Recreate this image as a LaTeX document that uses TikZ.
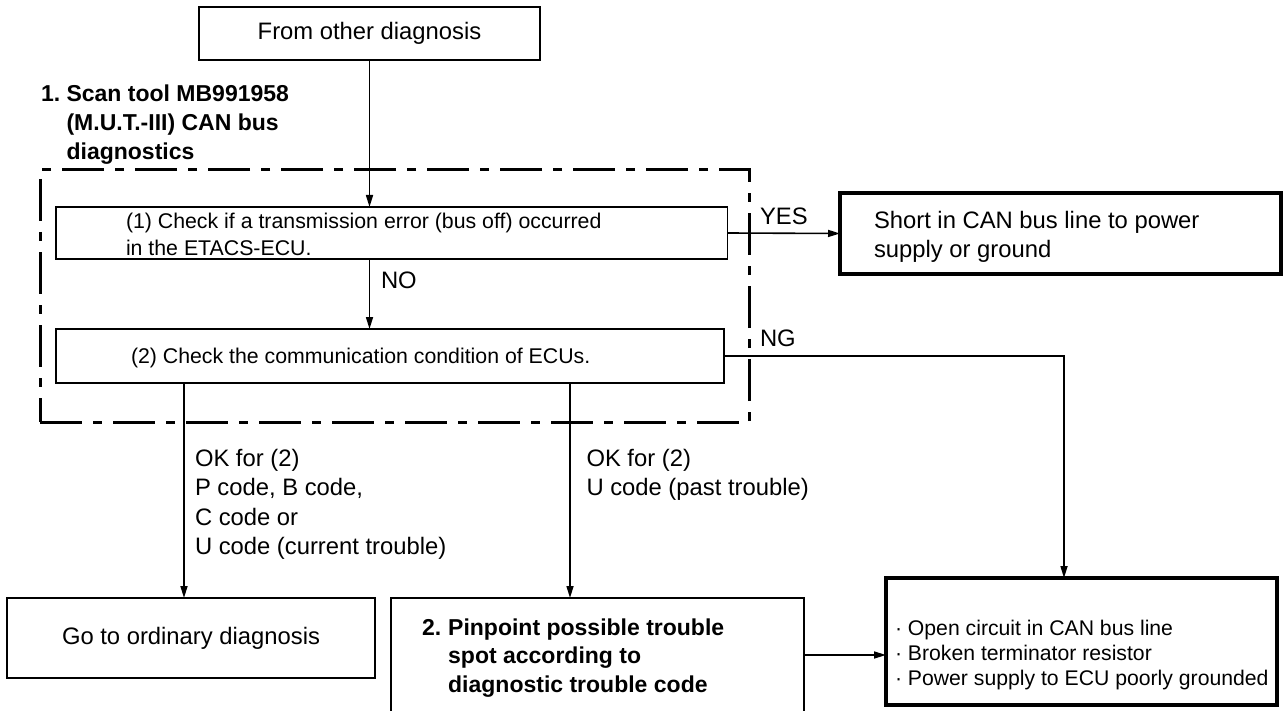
\documentclass[tikz,border=0pt]{standalone}
\usepackage{fontspec}
\setmainfont{Liberation Sans}
\usetikzlibrary{arrows.meta}
\newcommand{\linesblock}[1]{\begin{tabular}[t]{@{}l@{}}#1\end{tabular}}
\renewcommand{\arraystretch}{1}
\begin{document}
\begin{tikzpicture}[x=1pt,y=-1pt,
  bigtxt/.style={font=\fontsize{23.8}{29.3}\selectfont},
  smalltxt/.style={font=\fontsize{21.3}{26.5}\selectfont},
  boldtxt/.style={font=\fontsize{23}{28.7}\selectfont\bfseries},
  listtxt/.style={font=\fontsize{21.2}{25}\selectfont},
  txt/.style={anchor=base west, inner sep=0pt, outer sep=0pt},
  thinbox/.style={draw, line width=1.6pt, inner sep=0pt, outer sep=0pt},
  thickbox/.style={draw, line width=4pt, inner sep=0pt, outer sep=0pt},
  scanbox/.style={draw, line width=3pt, inner sep=0pt, outer sep=0pt,
    dash pattern=on 42pt off 11pt on 9pt off 11pt},
  arr/.style={-{Triangle[length=12pt,width=7pt]}, line width=1.6pt}]
\useasboundingbox (0,0) rectangle (1284,711);

% dashed region
\node[scanbox, minimum width=709pt, minimum height=252pt] (scan) at (394.5,296) {};

% boxes
\node[thinbox, bigtxt, minimum width=341pt, minimum height=53pt] (from) at (369.5,33.5) {From other diagnosis};
\node[thinbox, minimum width=671.5pt, minimum height=52pt] (b1) at (391.75,233) {};
\node[thinbox, minimum width=668pt, minimum height=54pt] (b2) at (390,356) {};
\node[thickbox, minimum width=441pt, minimum height=81pt] (b3) at (1060.5,233.5) {};
\node[thinbox, bigtxt, minimum width=368pt, minimum height=80pt] (b4) at (191,638) {Go to ordinary diagnosis};
\node[thinbox, minimum width=413pt, minimum height=114pt] (b5) at (597.5,655) {};
\node[thickbox, minimum width=391pt, minimum height=127pt] (b6) at (1081.5,641.5) {};

% texts
\node[txt, boldtxt] (t0) at (41,102) {\begin{tabular}[t]{@{}l@{\hspace{6.4pt}}l@{}}1.&Scan tool MB991958\\&(M.U.T.-III) CAN bus\\&diagnostics\end{tabular}};
\node[txt, smalltxt] (t1) at (126,228.6) {\linesblock{(1) Check if a transmission error (bus off) occurred\\in the ETACS-ECU.}};
\node[txt, smalltxt] (t2) at (131,363.6) {(2) Check the communication condition of ECUs.};
\node[txt, bigtxt] (t3) at (874,228.5) {\linesblock{Short in CAN bus line to power\\supply or ground}};
\node[txt, boldtxt] (t5) at (422,635) {\begin{tabular}[t]{@{}l@{\hspace{7pt}}l@{}}2.&Pinpoint possible trouble\\&spot according to\\&diagnostic trouble code\end{tabular}};
\node[txt, listtxt] (t6) at (895,635.6) {\linesblock{· Open circuit in CAN bus line\\· Broken terminator resistor\\· Power supply to ECU poorly grounded}};

% connector x positions
\coordinate (ngx) at (1064,0);
\coordinate (ok1x) at (184,0);
\coordinate (ok2x) at (570,0);

% connectors
\draw[arr] (from.south) -- (b1.north -| from.south);
\draw[arr] (b1.south -| from.south) -- (b2.north -| from.south);
\draw[arr] (b1.east) -- (b3.west);
\draw[arr] (b2.east) -| (b6.north -| ngx);
\draw[arr] (b2.south -| ok1x) -- (b4.north -| ok1x);
\draw[arr] (b2.south -| ok2x) -- (b5.north -| ok2x);
\draw[arr] (b5.east) -- (b6.west |- b5.east);

% connector labels
\node[txt, bigtxt] (no) at (381,288.5) {NO};
\node[txt, bigtxt] (yes) at (760,224.5) {YES};
\node[txt, bigtxt] (ng) at (760,346.5) {NG};
\node[txt, bigtxt] (ok1) at (195,466.5) {\linesblock{OK for (2)\\P code, B code,\\C code or\\U code (current trouble)}};
\node[txt, bigtxt] (ok2) at (586.5,466.5) {\linesblock{OK for (2)\\U code (past trouble)}};
\end{tikzpicture}
\end{document}
